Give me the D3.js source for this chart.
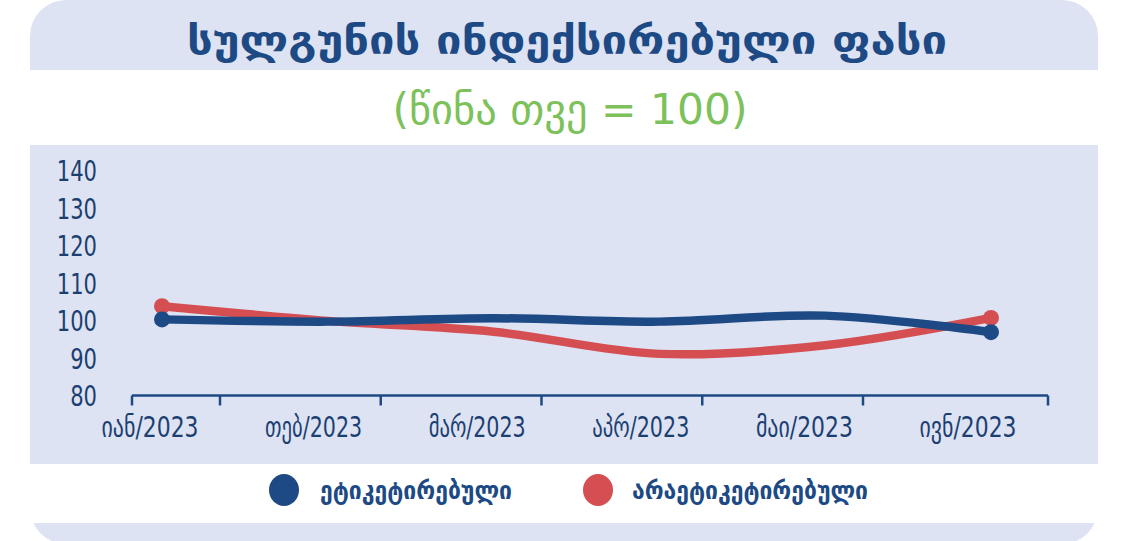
<!DOCTYPE html>
<html>
<head>
<meta charset="utf-8">
<script src="https://cdn.jsdelivr.net/npm/d3@7"></script>
<style>
  html, body { margin: 0; padding: 0; background: #ffffff; }
  svg { display: block; }
</style>
</head>
<body>
<div id="chart"></div>
<script>
// ---------- data ----------
const months = ["იან/2023", "თებ/2023", "მარ/2023", "აპრ/2023", "მაი/2023", "ივნ/2023"];
const labeled = [100.3, 99.7, 100.6, 99.7, 101.3, 96.9];
const unlabeled = [103.8, 99.9, 97.0, 91.1, 93.4, 100.7];
const yTicks = [80, 90, 100, 110, 120, 130, 140];
const seriesNames = ["ეტიკეტირებული", "არაეტიკეტირებული"];
const titleText = "სულგუნის ინდექსირებული ფასი";
const subtitleText = "(წინა თვე = 100)";

// ---------- style ----------
const W = 1128, H = 541;
const panelFill = "#dde3f2";
const blue = "#1d4a84";
const red = "#d44e52";
const green = "#7cc15a";
const textBlue = "#1c3f72";
const geo = "'DejaVu Sans Condensed', 'DejaVu Sans', sans-serif";
const narrow = "'Liberation Sans Narrow', 'DejaVu Sans Condensed', sans-serif";

const svg = d3.select("#chart").append("svg").attr("width", W).attr("height", H);

// background panel (one rounded shape) with white stripes over it
svg.append("rect").attr("x", 30).attr("y", 0).attr("width", 1068).attr("height", 544)
  .attr("rx", 36).attr("ry", 36).attr("fill", panelFill);
svg.append("rect").attr("x", 0).attr("y", 70).attr("width", W).attr("height", 75).attr("fill", "#ffffff");
svg.append("rect").attr("x", 0).attr("y", 464).attr("width", W).attr("height", 59).attr("fill", "#ffffff");

// title + subtitle
svg.append("text").attr("x", 567).attr("y", 54).attr("text-anchor", "middle")
  .attr("font-family", geo).attr("font-weight", "bold").attr("font-size", 40)
  .attr("fill", blue).attr("textLength", 760).attr("lengthAdjust", "spacingAndGlyphs")
  .text(titleText);
svg.append("text").attr("x", 570).attr("y", 124).attr("text-anchor", "middle")
  .attr("font-family", geo).attr("font-size", 42)
  .attr("fill", green).attr("textLength", 355).attr("lengthAdjust", "spacingAndGlyphs")
  .text(subtitleText);

// scales
const x = d3.scalePoint().domain(months).range([162, 991]);
const xLabel = d3.scalePoint().domain(months).range([150, 968]);
const y = d3.scaleLinear().domain([80, 140]).range([395.5, 170.5]);
const tickIdx = d3.scaleLinear().domain([0.5, 4.5]).range([220, 863]);

// y axis labels
const yAxis = d3.axisLeft(y).tickValues(yTicks).tickSize(0).tickPadding(0);
const gy = svg.append("g").attr("transform", "translate(97,0)").call(yAxis);
gy.select(".domain").remove();
gy.selectAll("text").attr("font-family", narrow).attr("font-size", 29)
  .attr("fill", textBlue).attr("dy", "0.36em")
  .attr("textLength", d => String(d).length * 13.4)
  .attr("lengthAdjust", "spacingAndGlyphs");

// x axis line and ticks
const axisG = svg.append("g");
axisG.append("line").attr("x1", 132).attr("x2", 1048).attr("y1", y(80)).attr("y2", y(80))
  .attr("stroke", blue).attr("stroke-width", 2.5);
const tickPositions = [132].concat(d3.range(0.5, 5, 1).map(tickIdx)).concat([1048]);
axisG.selectAll("line.tick").data(tickPositions).enter().append("line")
  .attr("class", "tick")
  .attr("x1", d => d).attr("x2", d => d)
  .attr("y1", y(80)).attr("y2", y(80) + 10)
  .attr("stroke", blue).attr("stroke-width", 2.5);
axisG.selectAll("text.xl").data(months).enter().append("text")
  .attr("class", "xl")
  .attr("x", d => xLabel(d)).attr("y", 437)
  .attr("text-anchor", "middle")
  .attr("font-family", narrow).attr("font-size", 29)
  .attr("fill", textBlue)
  .attr("textLength", 97).attr("lengthAdjust", "spacingAndGlyphs")
  .text(d => d);

// lines
const line = d3.line().x((d, i) => x(months[i])).y(d => y(d)).curve(d3.curveCatmullRom.alpha(0.5));
const series = [
  { name: seriesNames[1], values: unlabeled, color: red },
  { name: seriesNames[0], values: labeled, color: blue }
];
series.forEach(s => {
  svg.append("path").attr("d", line(s.values)).attr("fill", "none")
    .attr("stroke", s.color).attr("stroke-width", 8.5).attr("stroke-linecap", "round");
});
series.forEach(s => {
  const ends = [0, s.values.length - 1];
  svg.selectAll(null).data(ends).enter().append("circle")
    .attr("cx", i => x(months[i])).attr("cy", i => y(s.values[i]))
    .attr("r", 8).attr("fill", s.color);
});

// legend
const legend = [
  { name: seriesNames[0], color: blue, cx: 284, tx: 320, len: 192 },
  { name: seriesNames[1], color: red, cx: 598, tx: 632, len: 236 }
];
const lg = svg.append("g");
legend.forEach(l => {
  lg.append("ellipse").attr("cx", l.cx).attr("cy", 490).attr("rx", 15).attr("ry", 16).attr("fill", l.color);
  lg.append("text").attr("x", l.tx).attr("y", 499)
    .attr("font-family", geo).attr("font-weight", "bold").attr("font-size", 25)
    .attr("fill", blue).attr("textLength", l.len).attr("lengthAdjust", "spacingAndGlyphs")
    .text(l.name);
});
</script>
</body>
</html>
